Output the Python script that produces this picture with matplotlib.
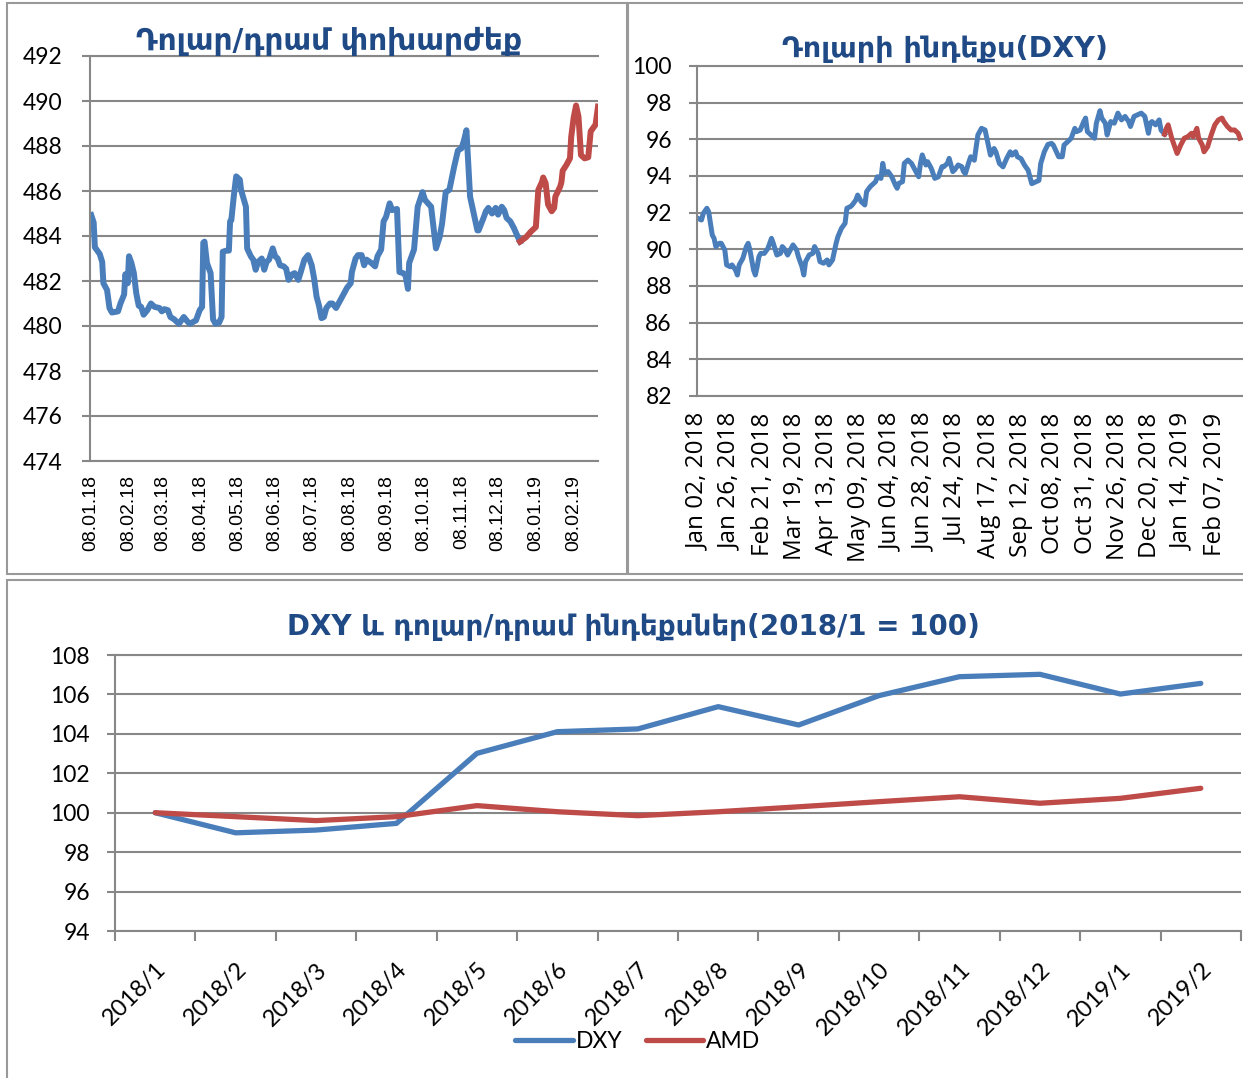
import numpy as np
import matplotlib
matplotlib.use("Agg")
import matplotlib.pyplot as plt
from matplotlib.patches import Rectangle
from matplotlib.lines import Line2D

BLUE = "#4A7EBB"
RED = "#BE4B48"
GRID = "#878787"
TITLE_C = "#1F4A85"
ARM = ["DejaVu Sans"]
NUM = ["Lato", "DejaVu Sans"]

# --- Դոլար/դրամ փոխարժեք: days counted from 2018-01-08
amd_start = np.datetime64("2018-01-08")
amd_days = [0, 2, 3, 7, 9, 10, 13, 15, 17, 22, 24, 27, 28, 30, 31, 33, 35, 37, 39, 41,
            43, 46, 49, 52, 56, 58, 60, 63, 65, 68, 72, 76, 79, 81, 86, 89, 91, 92, 93, 95,
            98, 100, 102, 105, 107, 108, 111, 113, 114, 115, 117, 119, 122, 123, 127, 128,
            131, 133, 135, 137, 140, 142, 144, 146, 149, 151, 153, 155, 158, 160, 162, 165,
            167, 170, 172, 175, 178, 181, 183, 185, 187, 189, 191, 193, 196, 198, 201, 204,
            206, 210, 213, 214, 217, 219, 222, 224, 226, 230, 233, 235, 238, 240, 242, 245,
            247, 251, 253, 256, 258, 260, 261, 265, 268, 272, 274, 279, 283, 286, 288, 291,
            294, 298, 301, 304, 306, 308, 311, 314, 317, 318, 322, 324, 326, 329, 332, 334,
            337, 339, 341, 344, 347, 349, 352]
amd_rate = [484.93, 484.6, 483.5, 483.2, 482.85, 481.9, 481.6, 480.8, 480.6, 480.65, 481.0,
            481.4, 482.3, 481.9, 483.1, 482.8, 482.35, 481.45, 480.9, 480.85, 480.5, 480.7,
            481.0, 480.85, 480.8, 480.65, 480.75, 480.7, 480.4, 480.3, 480.1, 480.4, 480.2,
            480.1, 480.25, 480.7, 480.85, 483.7, 483.75, 482.8, 482.35, 480.3, 480.1, 480.15,
            480.4, 483.3, 483.35, 483.35, 484.65, 484.7, 485.75, 486.65, 486.5, 486.05, 485.3,
            483.45, 483.1, 482.95, 482.5, 482.85, 483.0, 482.5, 482.85, 482.95, 483.45, 483.1,
            483.0, 482.7, 482.65, 482.55, 482.05, 482.3, 482.35, 482.05, 482.4, 482.95, 483.15,
            482.7, 482.1, 481.3, 480.9, 480.35, 480.4, 480.8, 481.0, 481.0, 480.8, 481.1, 481.3,
            481.7, 481.9, 482.4, 483.0, 483.15, 483.15, 482.7, 482.95, 482.8, 482.65, 483.1,
            483.4, 484.65, 484.85, 485.45, 485.15, 485.2, 482.4, 482.35, 482.25, 481.65, 482.8,
            483.4, 485.3, 485.95, 485.6, 485.3, 483.45, 483.95, 484.55, 485.95, 486.05, 487.1,
            487.8, 487.9, 488.25, 488.7, 485.75, 485.0, 484.25, 484.25, 484.8, 485.1, 485.25,
            485.0, 485.25, 484.95, 485.3, 485.15, 484.8, 484.65, 484.35, 484.1, 483.75]
amd_days_new = [352, 357, 361, 365, 367, 370, 371, 373, 375, 378, 380, 381, 385, 386, 387,
                390, 393, 394, 396, 398, 400, 402, 405, 408, 410, 412, 414, 416]
amd_rate_new = [483.75, 483.95, 484.2, 484.4, 486.05, 486.4, 486.6, 486.35, 485.4, 485.1,
                485.25, 485.75, 486.2, 486.4, 486.9, 487.15, 487.45, 488.4, 489.25, 489.8,
                489.3, 487.6, 487.45, 487.5, 488.65, 488.8, 488.95, 489.75]

# --- Դոլարի ինդեքս (DXY): trading-day index from Jan 02, 2018
dxy_idx = [0, 2, 3, 5, 6, 8, 9, 10, 12, 13, 15, 16, 18, 19, 21, 22, 23, 25, 27, 28, 29, 31,
           32, 33, 34, 35, 37, 39, 41, 42, 44, 46, 47, 48, 50, 52, 53, 55, 56, 58, 59, 60,
           62, 64, 65, 67, 68, 70, 72, 73, 75, 77, 78, 80, 82, 83, 85, 86, 88, 89, 91, 93,
           94, 96, 98, 99, 100, 102, 103, 104, 106, 108, 110, 111, 112, 114, 115, 117, 119,
           121, 123, 124, 125, 127, 128, 130, 132, 134, 136, 137, 139, 140, 142, 143, 145,
           147, 148, 149, 151, 152, 154, 156, 158, 160, 161, 163, 165, 166, 168, 170, 172,
           174, 175, 177, 178, 180, 182, 184, 186, 188, 190, 191, 193, 195, 197, 198, 201,
           203, 204, 206, 208, 210, 211, 213, 215, 216, 217, 219, 221, 222, 224, 225, 227,
           228, 230, 232, 234, 236, 238, 240, 241, 243, 245, 247, 249, 251, 252, 253, 255,
           257, 258, 260]
dxy_val = [91.69, 91.6, 91.96, 92.24, 92.05, 90.78, 90.6, 90.15, 90.33, 90.33, 89.96, 89.15,
           89.05, 89.15, 88.87, 88.6, 89.15, 89.5, 90.15, 90.33, 89.96, 88.87, 88.6, 89.05,
           89.6, 89.78, 89.78, 90.05, 90.6, 90.33, 89.69, 89.78, 90.15, 90.05, 89.69, 90.05,
           90.24, 89.96, 89.6, 89.05, 88.6, 89.33, 89.69, 89.78, 90.15, 89.78, 89.33, 89.24,
           89.42, 89.15, 89.42, 90.33, 90.69, 91.15, 91.42, 92.24, 92.33, 92.42, 92.69, 92.96,
           92.6, 92.42, 93.15, 93.42, 93.6, 93.69, 93.96, 93.87, 94.69, 94.15, 94.24, 93.96,
           93.51, 93.33, 93.6, 93.69, 94.69, 94.87, 94.69, 94.33, 93.96, 94.69, 95.15, 94.6,
           94.78, 94.42, 93.87, 93.96, 94.51, 94.51, 94.69, 94.96, 94.24, 94.33, 94.6, 94.51,
           94.24, 94.13, 94.77, 95.05, 94.86, 96.24, 96.6, 96.51, 96.06, 95.14, 95.5, 95.32,
           94.68, 94.5, 94.95, 95.32, 95.14, 95.32, 95.05, 94.95, 94.59, 94.31, 93.58, 93.67,
           93.76, 94.68, 95.32, 95.72, 95.78, 95.69, 95.05, 95.05, 95.69, 95.87, 96.06, 96.6,
           96.42, 96.51, 96.97, 97.16, 96.42, 96.24, 96.06, 96.88, 97.56, 97.16, 96.88, 96.24,
           96.97, 96.88, 97.43, 97.06, 97.25, 96.97, 96.7, 97.25, 97.34, 97.43, 97.25, 96.33,
           96.88, 96.97, 96.79, 97.06, 96.51, 96.28]
dxy_idx_new = [260, 261, 262, 264, 265, 267, 269, 271, 273, 275, 276, 278, 279, 281, 282,
               284, 286, 288, 290, 292, 293, 295, 297, 299, 301, 302]
dxy_val_new = [96.28, 96.6, 96.79, 96.06, 95.78, 95.23, 95.69, 96.06, 96.15, 96.33, 96.15,
               96.6, 96.06, 95.69, 95.32, 95.6, 96.24, 96.79, 97.06, 97.16, 96.97, 96.7,
               96.51, 96.51, 96.33, 96.06]
dxy_ticks = ["Jan 02, 2018", "Jan 26, 2018", "Feb 21, 2018", "Mar 19, 2018", "Apr 13, 2018",
             "May 09, 2018", "Jun 04, 2018", "Jun 28, 2018", "Jul 24, 2018", "Aug 17, 2018",
             "Sep 12, 2018", "Oct 08, 2018", "Oct 31, 2018", "Nov 26, 2018", "Dec 20, 2018",
             "Jan 14, 2019", "Feb 07, 2019"]

# --- monthly indices (2018/1 = 100)
months = ["2018/1", "2018/2", "2018/3", "2018/4", "2018/5", "2018/6", "2018/7",
          "2018/8", "2018/9", "2018/10", "2018/11", "2018/12", "2019/1", "2019/2"]
idx_dxy = [100.0, 98.98, 99.12, 99.46, 103.01, 104.11, 104.25, 105.38, 104.45, 105.94,
           106.9, 107.02, 106.02, 106.56]
idx_amd = [100.0, 99.8, 99.6, 99.8, 100.36, 100.05, 99.85, 100.05, 100.3, 100.56, 100.81,
           100.48, 100.73, 101.24]

W, H = 1243, 1078
fig = plt.figure(figsize=(W / 100, H / 100), dpi=100)


def box(x0, y0, x1, y1):
    # pixel box -> figure fraction
    return [x0 / W, 1 - y1 / H, (x1 - x0) / W, (y1 - y0) / H]


def style(ax, lo, hi, step, pad=13):
    ax.set_ylim(lo, hi)
    ax.set_yticks(np.arange(lo, hi + step / 2, step))
    ax.grid(axis="y", color=GRID, lw=1.5)
    ax.set_axisbelow(True)
    ax.spines["right"].set_visible(False)
    for s in ("left", "bottom", "top"):
        ax.spines[s].set_color(GRID)
        ax.spines[s].set_linewidth(1.5)
    ax.tick_params(axis="y", length=6, width=1.5, color=GRID, labelsize=16.5, pad=pad)
    for lab in ax.get_yticklabels():
        lab.set_fontfamily(NUM)


# panel frames
for x0, y0, x1, y1 in [(7, 3, 627, 574), (628, 3, 1260, 574), (7, 580, 1260, 1090)]:
    fig.patches.append(Rectangle((x0 / W, 1 - y1 / H), (x1 - x0) / W, (y1 - y0) / H,
                                 transform=fig.transFigure, fill=False,
                                 edgecolor="#999999", lw=1.5))

# top left
ax1 = fig.add_axes(box(90, 56, 598, 461))
x_old = amd_start + np.array(amd_days).astype("timedelta64[D]")
x_new = amd_start + np.array(amd_days_new).astype("timedelta64[D]")
ax1.plot(x_old, amd_rate, color=BLUE, lw=4.3, solid_joinstyle="round")
ax1.plot(x_new, amd_rate_new, color=RED, lw=4.3, solid_joinstyle="round")
style(ax1, 474, 492, 2, pad=14)
month_ticks = (np.arange("2018-01", "2019-03", dtype="datetime64[M]")
               .astype("datetime64[D]") + np.timedelta64(7, "D"))
ax1.set_xticks(month_ticks)
ax1.set_xticklabels([str(t)[8:10] + "." + str(t)[5:7] + "." + str(t)[2:4] for t in month_ticks],
                    rotation=90, fontsize=14, family="Liberation Sans")
ax1.tick_params(axis="x", length=0, pad=10)
ax1.set_xlim(amd_start - np.timedelta64(1, "D"), amd_start + np.timedelta64(416, "D"))
fig.text(329 / W, 1 - 50 / H, "Դոլար/դրամ փոխարժեք", ha="center", va="baseline",
         fontsize=21.3, fontweight="bold", color=TITLE_C, family=ARM)

# top right
ax2 = fig.add_axes(box(697, 66, 1243, 396))
ax2.plot(dxy_idx, dxy_val, color=BLUE, lw=3.6, solid_joinstyle="round")
ax2.plot(dxy_idx_new, dxy_val_new, color=RED, lw=3.6, solid_joinstyle="round")
style(ax2, 82, 100, 2, pad=12)
ax2.set_xticks(np.arange(len(dxy_ticks)) * 18)
ax2.set_xticklabels(dxy_ticks, rotation=90, fontsize=17.5, family="Open Sans")
ax2.tick_params(axis="x", length=0, pad=12)
ax2.set_xlim(-0.5, 303.7)
fig.text(945 / W, 1 - 57 / H, "Դոլարի ինդեքս(DXY)", ha="center", va="baseline",
         fontsize=20.5, fontweight="bold", color=TITLE_C, family=ARM)

# bottom
ax3 = fig.add_axes(box(115, 655, 1241, 931))
xs = np.arange(len(months))
ax3.plot(xs, idx_dxy, color=BLUE, lw=3.8, solid_capstyle="round", label="DXY")
ax3.plot(xs, idx_amd, color=RED, lw=3.8, solid_capstyle="round", label="AMD")
style(ax3, 94, 108, 2, pad=12)
ax3.set_xlim(-0.5, len(months) - 0.5)
ax3.set_xticks(xs)
ax3.set_xticklabels(months, rotation=45, ha="right", rotation_mode="anchor",
                    fontsize=17, family=NUM)
ax3.set_xticks(np.arange(len(months) + 1) - 0.5, minor=True)
ax3.tick_params(axis="x", which="major", length=0, pad=20)
ax3.tick_params(axis="x", which="minor", length=7, width=1.5, color=GRID)
handles = [Line2D([], [], color=BLUE, lw=3.8, solid_capstyle="round"),
           Line2D([], [], color=RED, lw=3.8, solid_capstyle="round")]
leg = ax3.legend(handles, ["DXY", "AMD"], loc="center", ncol=2, frameon=False,
                 bbox_to_anchor=(638 / W, 1 - 1042 / H), bbox_transform=fig.transFigure,
                 handlelength=2.5, handletextpad=0.15, columnspacing=1.0,
                 prop={"family": NUM, "size": 16.5})
fig.text(633 / W, 1 - 635 / H, "DXY և դոլար/դրամ ինդեքսներ(2018/1 = 100)", ha="center",
         va="baseline", fontsize=20, fontweight="bold", color=TITLE_C, family=ARM)

fig.savefig("out.png", dpi=100)
